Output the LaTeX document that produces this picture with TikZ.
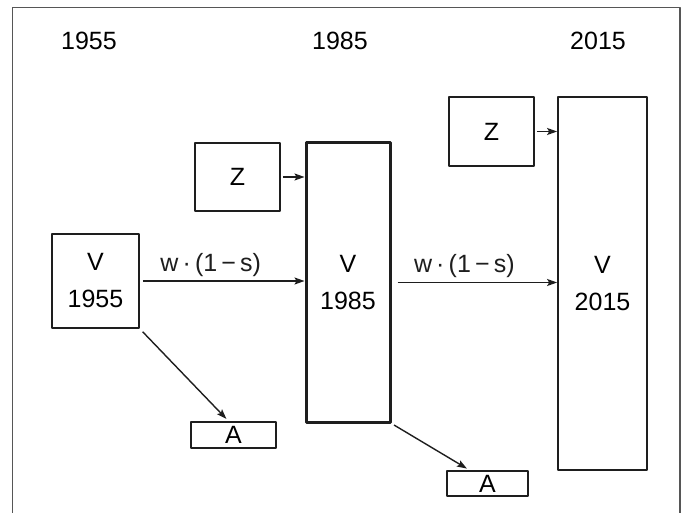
\documentclass[tikz,border=0pt]{standalone}
\usepackage{fontspec}
\setmainfont{Liberation Sans}
\usepackage{tikz}
\usetikzlibrary{arrows.meta, positioning, calc}
\definecolor{inkgrey}{HTML}{1E1E1E}

\begin{document}
\begin{tikzpicture}[x=1pt, y=-1pt, line join=round,
        box/.style={draw=inkgrey, line width=1.8pt, inner sep=0pt, align=center,
                    font=\fontsize{25}{37}\selectfont},
        yearlabel/.style={inner sep=0pt, font=\fontsize{25}{30}\selectfont},
        flow/.style={inkgrey, line width=1.4pt,
                     -{Stealth[length=10pt, width=7pt, inset=2pt]}},
        rate/.style={inner sep=0pt, font=\fontsize{25}{30}\selectfont}]
        \useasboundingbox (0,0) rectangle (682,513);
        \draw[inkgrey!75, line width=1.5pt] (12.5,513) -- (12.5,7.5) -- (680,7.5) -- (680,513);
        \node[yearlabel] (yr55) at (89, 41) {1955};
        \node[yearlabel] (yr85) at (340, 41) {1985};
        \node[yearlabel] (yr15) at (598, 41) {2015};
        \node[box, minimum width=87, minimum height=94]  (v55) at (95.5, 281)   {V\\1955};
        \node[box, line width=3pt, minimum width=84, minimum height=279] (v85) at (348, 282.5) {V\\1985};
        \node[box, minimum width=89, minimum height=373] (v15) at (602.5, 283.5) {V\\2015};
        \node[box, minimum width=85, minimum height=68]  (z85) at (237.5, 177)   {Z};
        \node[box, minimum width=85, minimum height=69]  (z15) at (491.5, 131.5) {Z};
        \node[box, minimum width=85, minimum height=26]  (a55) at (233.5, 435) {A};
        \node[box, minimum width=81, minimum height=25]  (a85) at (487.5, 483.5) {A};
        \draw[flow, shorten <=3pt] (v55.east) -- (v55.east -| v85.west)
            node[rate, pos=0.43, above=4pt] {w\,·\,(1\,−\,s)};
        \draw[flow, shorten <=6pt] (v85.east) -- (v85.east -| v15.west)
            node[rate, pos=0.44, above=4pt] {w\,·\,(1\,−\,s)};
        \draw[flow, shorten <=2pt] (z85.east) -- (z85.east -| v85.west);
        \draw[flow, shorten <=2pt] (z15.east) -- (z15.east -| v15.west);
        \draw[flow, shorten <=4pt, shorten >=3pt] (v55.south east) -- ([xshift=-5]a55.north);
        \draw[flow, shorten <=3pt, shorten >=3pt] (v85.south east) -- ([xshift=-18]a85.north);
    \end{tikzpicture}
\end{document}
